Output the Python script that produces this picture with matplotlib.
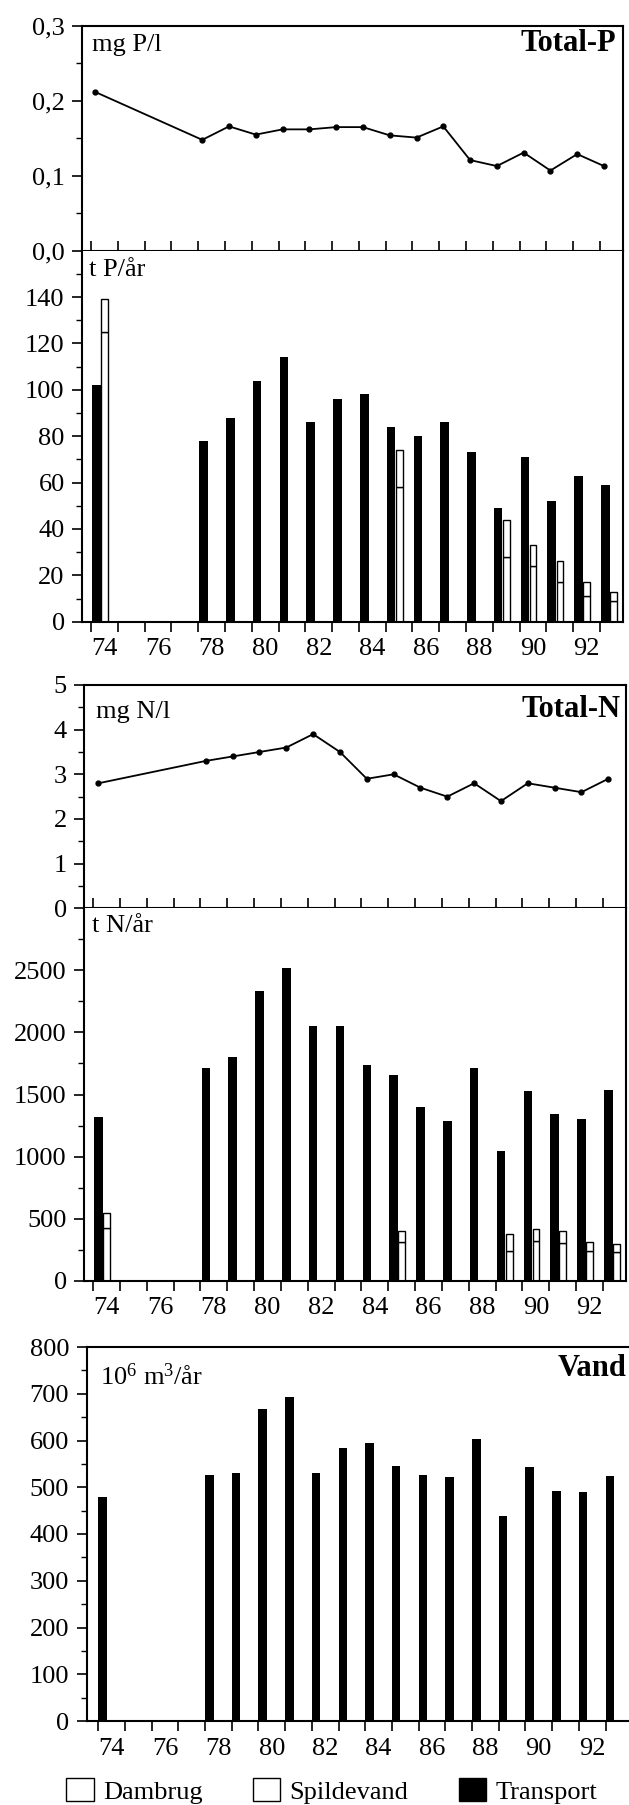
import matplotlib
matplotlib.use('Agg')
import matplotlib.pyplot as plt
import numpy as np
from matplotlib.ticker import FixedLocator, FuncFormatter, MultipleLocator
from matplotlib.patches import Patch

plt.rcParams['font.family'] = ['Liberation Serif', 'DejaVu Serif']
plt.rcParams['mathtext.fontset'] = 'custom'
plt.rcParams['mathtext.rm'] = 'Liberation Serif'
plt.rcParams['mathtext.it'] = 'Liberation Serif:italic'
plt.rcParams['mathtext.bf'] = 'Liberation Serif:bold'

# ---------------- data ----------------
years = [74, 78, 79, 80, 81, 82, 83, 84, 85, 86, 87, 88, 89, 90, 91, 92, 93]
p_conc = [0.212, 0.148, 0.166, 0.155, 0.162, 0.162, 0.165, 0.165, 0.154, 0.151,
          0.166, 0.121, 0.113, 0.131, 0.107, 0.129, 0.113]
p_transport = [102, 78, 88, 104, 114, 86, 96, 98, 84, 80, 86, 73, 49, 71, 52, 63, 59]
point_years = [74, 85, 89, 90, 91, 92, 93]
p_spildevand = [125, 58, 28, 24, 17, 11, 9]
p_dambrug = [14, 16, 16, 9, 9, 6, 4]

n_conc = [2.8, 3.3, 3.4, 3.5, 3.6, 3.9, 3.5, 2.9, 3.0, 2.7, 2.5, 2.8, 2.4, 2.8, 2.7, 2.6, 2.9]
n_transport = [1320, 1710, 1800, 2330, 2520, 2050, 2055, 1740, 1655, 1400, 1285, 1715,
               1045, 1525, 1340, 1300, 1540]
n_spildevand = [426, 308, 241, 322, 306, 240, 228]
n_dambrug = [116, 94, 132, 91, 94, 74, 64]

vand = [479, 526, 530, 668, 694, 530, 583, 595, 546, 527, 521, 603, 438, 544, 492, 490, 524]

year_ticks = list(range(74, 94))
year_labels = [str(y) for y in range(74, 93, 2)]

# ---------------- figure ----------------
W, H = 629, 1805
fig = plt.figure(figsize=(W / 100, H / 100), dpi=100)


def add_ax(l, r, t, b):
    return fig.add_axes([l / W, 1 - b / H, (r - l) / W, (b - t) / H])


def ftext(x, y, s, **kw):
    fig.text(x / W, 1 - y / H, s, **kw)


FS = 19
LW = 1.5


def style(ax, xlim, labels, xdir):
    ax.set_xlim(*xlim)
    ax.xaxis.set_minor_locator(FixedLocator(year_ticks))
    if labels:
        ax.xaxis.set_major_locator(FixedLocator([int(l) + 0.5 for l in year_labels]))
        ax.set_xticklabels(year_labels)
    else:
        ax.xaxis.set_major_locator(FixedLocator([]))
    ax.tick_params(axis='x', which='major', length=0, pad=12, labelsize=FS)
    ax.tick_params(axis='x', which='minor', direction=xdir, length=7, width=1.2)
    ax.tick_params(axis='y', which='major', direction='out', length=7, width=1.2,
                   labelsize=FS, pad=5.5)
    ax.tick_params(axis='y', which='minor', direction='out', length=4, width=1.0)
    for s in ax.spines.values():
        s.set_linewidth(LW)


xl = (73.66, 93.86)
yr = np.array(years, dtype=float)
py = np.array(point_years, dtype=float)

# Panel 1: Total-P concentration
ax1 = add_ax(82, 623, 26, 250.7)
style(ax1, xl, False, 'in')
ax1.plot(yr + 0.15, p_conc, color='black', lw=1.3, marker='o', ms=3.5)
ax1.set_ylim(0, 0.3)
ax1.yaxis.set_major_locator(MultipleLocator(0.1))
ax1.yaxis.set_minor_locator(MultipleLocator(0.05))
ax1.yaxis.set_major_formatter(FuncFormatter(lambda v, p: f"{v:.1f}".replace('.', ',')))

# Panel 2: P transport
ax2 = add_ax(82, 623, 250.7, 621.7)
style(ax2, xl, True, 'out')
ax2.spines['top'].set_visible(False)
ax2.bar(yr + 0.04, p_transport, width=0.32, align='edge', color='black')
ax2.bar(py + 0.38, p_spildevand, width=0.25, align='edge', facecolor='white',
        edgecolor='black', lw=1.0)
ax2.bar(py + 0.38, p_dambrug, bottom=p_spildevand, width=0.25, align='edge',
        facecolor='white', edgecolor='black', lw=1.0)
ax2.set_ylim(0, 160)
ax2.yaxis.set_major_locator(FixedLocator(range(0, 141, 20)))
ax2.yaxis.set_minor_locator(FixedLocator(range(10, 160, 20)))

# Panel 3: Total-N concentration
ax3 = add_ax(84, 626, 685, 908.3)
style(ax3, xl, False, 'in')
ax3.plot(yr + 0.2, n_conc, color='black', lw=1.3, marker='o', ms=3.5)
ax3.set_ylim(0, 5)
ax3.yaxis.set_major_locator(MultipleLocator(1))
ax3.yaxis.set_minor_locator(MultipleLocator(0.5))

# Panel 4: N transport
ax4 = add_ax(84, 626, 908.3, 1280.7)
style(ax4, xl, True, 'out')
ax4.spines['top'].set_visible(False)
ax4.bar(yr + 0.04, n_transport, width=0.32, align='edge', color='black')
ax4.bar(py + 0.38, n_spildevand, width=0.25, align='edge', facecolor='white',
        edgecolor='black', lw=1.0)
ax4.bar(py + 0.38, n_dambrug, bottom=n_spildevand, width=0.25, align='edge',
        facecolor='white', edgecolor='black', lw=1.0)
ax4.set_ylim(0, 3000)
ax4.yaxis.set_major_locator(FixedLocator(range(0, 2501, 500)))
ax4.yaxis.set_minor_locator(FixedLocator(range(250, 3000, 500)))

# Panel 5: Vand
ax5 = add_ax(86.5, 629, 1347, 1721)
style(ax5, (73.56, 93.88), True, 'out')
ax5.spines['right'].set_visible(False)
ax5.bar(yr + 0.0, vand, width=0.32, align='edge', color='black')
ax5.set_ylim(0, 800)
ax5.yaxis.set_major_locator(MultipleLocator(100))
ax5.yaxis.set_minor_locator(MultipleLocator(50))

# ---------------- texts ----------------
ftext(92, 34, "mg P/l", fontsize=FS, va='top', ha='left')
ftext(616, 29, "Total-P", fontsize=22, fontweight='bold', va='top', ha='right')
ftext(89, 259, "t P/år", fontsize=FS, va='top', ha='left')
ftext(96, 701, "mg N/l", fontsize=FS, va='top', ha='left')
ftext(620, 695, "Total-N", fontsize=22, fontweight='bold', va='top', ha='right')
ftext(92, 915, "t N/år", fontsize=FS, va='top', ha='left')
ftext(100, 1363, "10$^{6}$ m$^{3}$/år", fontsize=FS, va='top', ha='left')
ftext(627, 1354, "Vand", fontsize=22, fontweight='bold', va='top', ha='right')

handles = [Patch(facecolor='white', edgecolor='black', lw=1.0, label='Dambrug'),
           Patch(facecolor='white', edgecolor='black', lw=1.0, label='Spildevand'),
           Patch(facecolor='black', edgecolor='black', lw=1.0, label='Transport')]
fig.legend(handles=handles, loc='center left', bbox_to_anchor=(66 / W, 1 - 1791 / H),
           ncol=3, frameon=False, fontsize=FS, handlelength=1.05, handleheight=0.95,
           handletextpad=0.35, columnspacing=1.9, borderpad=0, borderaxespad=0)

fig.savefig('out.png', dpi=100)
